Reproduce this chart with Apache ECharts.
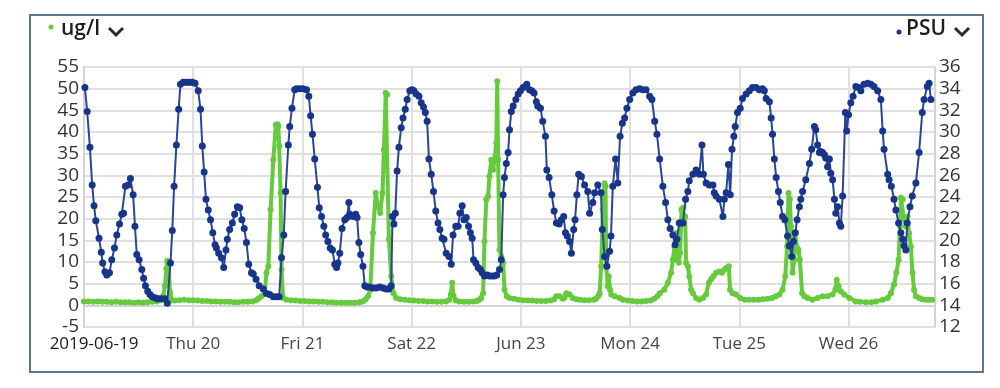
<!DOCTYPE html>
<html>
<head>
<meta charset="utf-8">
<script src="https://cdn.jsdelivr.net/npm/echarts@6/dist/echarts.min.js"></script>
<style>
html,body{margin:0;padding:0;background:#fff;}
#chart{width:1000px;height:388px;}
</style>
</head>
<body>
<div id="chart"></div>
<script>
// x values are hours after 2019-06-19 00:00
var xTickLabels = ['2019-06-19','Thu 20','Fri 21','Sat 22','Jun 23','Mon 24','Tue 25','Wed 26'];
var leftAxisName = 'ug/l';
var rightAxisName = 'PSU';

// ug/l (left axis, green)
var ugl = [
[0,0.9],[1,0.9],[2,0.8],[3,0.9],[4,0.8],[5,0.8],[6,0.7],[7,0.8],[8,0.7],[9,0.7],[10,0.7],[11,0.6],[12,0.7],[13,0.6],[14,0.7],[15,0.8],[16,0.9],[16.8,1.2],[17.4,2.2],[17.8,4.5],[18.1,8.5],[18.3,10.3],[18.6,9.5],[18.9,3.0],[19.3,1.2],
[20,1.1],[21,1.2],[22,1.3],[23,1.2],[24,1.2],[25,1.1],[26,1.0],[27,1.0],[28,0.9],[29,0.9],[30,0.8],[31,0.8],[32,0.8],[33,0.7],[34,0.7],[35,0.8],[36,0.8],[37,0.9],[37.8,1.2],[38.4,1.6],[39.0,2.1],[39.7,2.8],[40.1,7.5],[40.5,9.0],[41.0,22.1],[41.6,33.6],[42.15,41.7],[42.5,41.8],[42.7,41.3],[42.9,36.7],[43.2,25.9],[43.4,8.2],[43.75,1.7],
[44.5,1.3],[45.5,1.2],[46.5,1.1],[47.5,1.0],[48.5,1.0],[49.5,0.9],[50.5,0.9],[51.5,0.8],[52.5,0.8],[53.5,0.7],[54.5,0.7],[55.5,0.6],[56.5,0.6],[57.5,0.6],[58.5,0.6],[59.5,0.6],[60.5,0.7],[61.3,0.9],[61.9,1.4],[62.4,2.1],[62.9,3.6],[63.5,16.7],[64.1,25.9],[64.6,22.8],[65.1,21.3],[65.6,25.9],[65.9,35.9],[66.3,49.0],[66.6,48.6],[67.0,15.2],[67.5,6.7],[68.0,2.8],[68.6,1.7],
[69.5,1.4],[70.5,1.3],[71.5,1.2],[72.5,1.1],[73.5,1.0],[74.5,1.0],[75.5,0.9],[76.5,0.9],[77.5,0.8],[78.5,0.8],[79.5,0.9],[80.3,1.3],[80.6,2.5],[80.9,5.2],[81.2,2.2],[81.7,1.1],[82.5,0.9],[83.5,0.8],[84.5,0.8],[85.5,0.9],[86.3,1.0],[86.9,1.3],[87.3,1.7],[87.7,2.8],[88.0,14.8],[88.4,24.4],[88.8,25.2],[89.1,29.8],[89.5,33.6],[89.9,31.3],[90.2,33.6],[90.6,37.5],[90.8,51.7],[91.0,33.6],[91.3,12.8],[91.7,11.3],[92.1,9.8],[92.4,3.6],[92.9,2.1],[93.5,1.7],
[94.5,1.5],[95.5,1.3],[96.5,1.2],[97.5,1.1],[98.5,1.1],[99.5,1.0],[100.5,1.0],[101.5,1.0],[102.5,1.1],[103.3,1.4],[103.8,2.1],[104.5,2.1],[105.2,1.5],[105.6,1.8],[106.0,2.8],[106.7,2.5],[107.4,1.7],[108.2,1.4],[109,1.3],[110,1.2],[111,1.2],[112,1.3],[112.5,1.5],[113.0,2.1],[113.3,2.8],[113.65,9.0],[114.0,22.1],[114.4,28.2],[114.6,27.5],[114.75,9.0],[115.1,4.4],[115.3,6.7],[115.6,3.6],[115.85,2.5],[116.6,2.1],[117.7,1.7],
[118.4,1.3],[119.5,1.1],[120.5,1.0],[121.5,0.9],[122.5,0.9],[123.5,1.0],[124.5,1.1],[125.3,1.5],[126.0,2.1],[126.5,2.8],[127.5,3.6],[128.3,5.2],[129.0,7.5],[129.4,10.5],[129.75,13.6],[129.96,16.7],[130.26,10.5],[130.7,9.8],[131.0,12.1],[131.3,22.1],[131.7,22.5],[132.1,20.5],[132.3,9.8],[132.7,9.0],[133.0,6.7],[133.4,3.6],[133.8,2.8],[134.5,1.7],[135.2,1.3],[136.0,1.7],[136.7,2.5],[137.3,5.2],[137.8,6.0],[138.3,6.7],[138.9,7.5],[139.6,7.8],[140.2,7.5],[140.7,8.2],[141.1,8.6],[141.7,9.0],[141.96,3.6],[142.55,2.8],[143.3,2.5],
[144.2,1.7],[145.2,1.3],[146.2,1.3],[147.2,1.3],[148.2,1.3],[149.2,1.4],[150.2,1.5],[151.2,1.7],[152.0,2.1],[152.8,2.5],[153.5,3.6],[154.1,6.7],[154.5,13.6],[154.8,25.9],[155.1,24.4],[155.35,18.2],[155.7,7.5],[156.1,10.5],[156.3,16.7],[156.6,13.6],[157.0,12.8],[157.3,10.5],[157.8,2.8],[158.3,2.1],[159.0,1.7],[160.1,1.3],[161.2,1.7],[162.3,2.1],[163.4,2.1],[164.5,2.5],[165.1,3.6],[165.4,5.9],[165.8,4.4],[166.3,3.2],[167.05,2.5],[168.2,1.7],[169.6,0.9],[170.5,0.8],[171.8,0.7],[173,0.7],[174,0.9],[175.5,1.3],[176.6,1.7],[177.3,2.8],[178.0,4.8],[178.5,7.5],[179.0,10.5],[179.3,18.2],[179.5,24.8],[179.9,24.4],[180.2,19.8],[180.6,18.2],[180.95,20.5],[181.3,16.7],[181.7,13.6],[182.05,7.5],[182.4,3.6],[182.8,2.1],[183.5,1.7],[184.2,1.4],[185.0,1.3],[185.7,1.3],[186.4,1.3]
];

// PSU (right axis, navy)
var psu = [
[0.2,34.1],[0.7,31.9],[1.3,28.6],[1.8,25.1],[2.2,23.2],[2.6,21.8],[3.3,20.2],[3.8,18.9],[4.1,17.9],[4.6,17.1],[5.0,16.8],[5.6,17.0],[6.1,18.2],[6.7,19.3],[7.2,20.5],[7.8,21.5],[8.3,22.4],[8.7,22.5],[9.1,25.0],[9.7,25.1],[10.2,25.7],[10.8,24.2],[11.2,21.3],[11.6,18.7],[12.1,18.2],[12.7,17.3],[13.1,16.5],[13.5,15.8],[14.0,15.3],[14.5,15.0],[15.0,14.8],[15.6,14.7],[16.1,14.6],[16.5,14.6],[17.2,14.6],[17.8,14.6],[18.3,14.2],
[19.0,17.9],[19.4,20.9],[19.8,25.0],[20.3,28.8],[20.8,32.1],[21.2,34.4],[21.8,34.6],[22.3,34.6],[22.8,34.6],[23.3,34.6],[23.8,34.6],[24.4,34.5],[25.1,33.8],[25.6,32.1],[26.0,28.7],[26.4,26.3],[26.8,23.8],[27.3,22.8],[27.8,21.9],[28.3,20.7],[28.8,19.6],[29.1,19.3],[29.6,18.8],[30.2,18.4],[30.7,17.5],[31.2,19.1],[31.5,20.1],[32.0,21.0],[32.6,21.6],[33.1,22.4],[33.7,23.1],[34.2,23.0],[34.7,21.9],[35.2,21.1],[35.7,19.8],[36.2,17.8],[36.8,17.0],[37.2,16.9],[37.8,16.4],[38.5,15.8],[39.4,15.5],[40.1,15.1],[40.8,15.0],[41.6,14.8],[42.3,14.8],[42.9,14.8],
[43.4,18.4],[43.9,20.5],[44.3,24.5],[44.9,28.8],[45.2,30.5],[45.7,32.2],[46.3,33.9],[46.7,34.0],[47.4,34.0],[48.1,34.0],[48.9,33.9],[49.4,33.3],[49.8,31.5],[50.2,29.8],[50.7,27.5],[51.3,24.9],[51.7,23.0],[52.2,22.2],[52.7,21.3],[53.1,20.5],[53.6,19.9],[54.1,19.3],[54.6,19.1],[55.1,17.8],[55.5,17.5],[55.8,17.9],[56.2,18.8],[56.7,21.1],[57.3,21.9],[57.8,22.1],[58.2,23.5],[58.4,22.4],[59.1,22.2],[59.7,22.4],[60.0,22.1],[60.4,19.8],[60.8,18.7],[61.3,17.6],[61.7,15.8],[62.2,15.7],[62.8,15.7],[63.5,15.6],[64.2,15.6],[65.0,15.7],[65.7,15.6],[66.4,15.5],[67.0,15.5],[67.5,15.8],
[67.8,22.2],[68.1,21.5],[68.4,22.5],[68.8,26.4],[69.2,28.6],[69.7,30.4],[70.1,31.3],[70.6,32.1],[71.0,33.0],[71.6,33.8],[72.1,33.9],[72.5,33.8],[73.0,33.5],[73.6,33.3],[74.1,32.7],[74.6,32.3],[75.0,31.8],[75.4,31.0],[75.8,27.5],[76.3,26.1],[76.8,24.5],[77.3,22.7],[77.8,21.6],[78.2,21.0],[78.7,20.2],[79.1,20.1],[79.6,18.8],[80.2,18.5],[80.7,17.8],[81.1,20.5],[81.7,21.3],[82.2,21.3],[82.6,22.5],[83.1,23.2],[83.5,21.9],[84.0,22.1],[84.5,21.3],[84.9,20.7],[85.3,20.2],[85.6,18.2],[86.1,17.9],[86.6,17.5],[87.1,17.3],[87.5,17.0],[88.0,16.7],[88.6,16.8],[89.1,16.7],[89.7,16.7],[90.2,16.7],[90.7,16.8],[91.3,17.3],[91.7,18.2],
[92.1,24.2],[92.4,25.8],[92.8,27.1],[93.2,28.1],[93.5,30.2],[93.9,31.9],[94.3,32.4],[94.9,33.0],[95.4,33.5],[95.9,33.8],[96.5,34.1],[97.0,34.2],[97.3,34.4],[97.9,33.9],[98.4,33.8],[98.9,33.6],[99.4,32.8],[99.7,32.4],[100.3,32.2],[100.8,31.0],[101.4,29.6],[101.7,26.5],[102.2,25.8],[102.8,24.2],[103.3,22.7],[103.8,21.6],[104.4,21.5],[104.9,21.9],[105.4,22.2],[105.8,20.7],[106.2,20.4],[106.7,19.9],[107.1,18.8],[107.6,21.0],[107.9,21.9],[108.3,24.2],[108.7,26.1],
[109.3,25.9],[110.0,25.1],[110.7,24.5],[111.1,22.5],[111.8,23.5],[112.2,24.4],[112.9,25.1],[113.6,24.4],[113.9,21.0],[114.4,18.5],[114.9,17.6],[115.5,19.0],[115.8,20.4],[116.2,25.0],[116.8,27.5],[117.3,25.3],[117.8,29.6],[118.3,30.8],[118.8,31.3],[119.3,32.2],[119.9,33.0],[120.6,33.6],[121.3,33.9],[122.1,34.0],[122.8,33.9],[123.5,33.9],[124.3,33.3],[124.8,33.0],[125.4,31.0],[125.9,29.8],[126.5,27.5],[127.2,25.0],[127.8,23.5],[128.3,21.9],[128.8,21.1],[129.4,20.5],[129.9,19.6],[130.3,20.1],[130.8,21.6],[131.2,21.6],[131.6,21.6],[132.2,23.8],[132.7,24.5],[133.0,25.5],[133.8,26.1],[134.5,26.5],[135.2,26.1],[135.8,28.8],[136.1,26.1],[136.7,25.3],[137.4,25.1],[138.2,25.1],[138.5,24.4],[138.9,24.1],[139.6,23.8],[140.4,22.2],[140.7,23.8],[141.1,24.4],[141.6,27.0],[142.0,24.2],[142.4,28.4],[142.8,29.6],[143.1,30.5],[143.6,31.8],[144.2,32.2],[144.7,33.1],[145.5,33.5],[146.2,33.8],[146.9,34.1],[147.7,34.1],[148.4,33.9],[149.1,34.0],[149.5,33.8],[149.9,33.1],[150.6,32.8],[151.0,31.3],[151.3,29.8],[151.7,27.5],[152.1,25.8],[152.6,24.5],[153.0,23.5],[153.5,22.2],[154.0,21.9],[154.6,20.4],[155.0,19.5],[155.5,18.5],[155.9,19.9],[156.3,20.7],[156.7,21.9],[157.2,23.1],[157.5,23.8],[157.9,24.5],[158.6,25.6],[159.4,27.1],[159.9,28.4],[160.5,30.5],[160.8,30.2],[161.2,28.8],[161.6,28.1],[161.9,28.2],[162.3,28.1],[162.7,27.9],[163.0,27.6],[163.4,26.8],[163.8,27.5],[164.1,26.2],[164.5,25.6],[164.9,23.8],[165.2,22.5],[165.6,23.1],[166.0,21.6],[166.3,21.3],[166.7,24.1],
[167.3,31.8],[167.6,30.1],[168.0,31.6],[168.5,32.7],[169.0,33.3],[169.6,34.2],[170.2,34.1],[170.7,33.8],[171.4,34.4],[172.2,34.5],[172.9,34.4],[173.6,34.2],[174.4,33.8],[175.1,33.0],[175.5,30.1],[175.8,28.4],[176.6,26.1],[176.9,25.6],[177.4,25.0],[178.0,23.8],[178.4,22.8],[179.0,21.6],[179.5,20.7],[179.9,20.1],[180.2,19.5],[180.6,19.1],[180.9,21.6],[181.5,23.1],[182.0,24.1],[182.8,25.3],[183.5,28.1],[184.2,31.8],[184.6,33.0],[185.3,34.2],[185.7,34.5],[186.1,33.0]
];

var chart = echarts.init(document.getElementById('chart'), null, {renderer: 'canvas'});
var FONT = '"Open Sans", "Noto Sans", sans-serif';
var gridColor = '#e0e0e0';

chart.setOption({
  animation: false,
  backgroundColor: '#ffffff',
  grid: {left: 84, right: 65, top: 67, bottom: 61, containLabel: false},
  xAxis: {
    type: 'value', min: 0, max: 187, interval: 24,
    axisLine: {show: true, lineStyle: {color: '#d4d4d4', width: 2}},
    axisTick: {show: false},
    splitLine: {show: true, lineStyle: {color: gridColor, width: 2}},
    axisLabel: {
      margin: 9, fontFamily: FONT, fontSize: 17, color: '#444',
      showMaxLabel: false,
      formatter: function (v) {
        var i = v / 24;
        if (i !== Math.round(i) || !xTickLabels[i]) return '';
        if (i === 0) return '{first|' + xTickLabels[0] + '}';
        return xTickLabels[i];
      },
      rich: {first: {fontFamily: FONT, fontSize: 17, color: '#1a1a1a', padding: [0, 0, 0, 20]}}
    }
  },
  yAxis: [
    {
      type: 'value', min: -5, max: 55, interval: 5, position: 'left',
      axisLine: {show: true, lineStyle: {color: '#d4d4d4', width: 2}},
      axisTick: {show: false},
      splitLine: {show: true, lineStyle: {color: gridColor, width: 2}},
      axisLabel: {margin: 5, fontFamily: FONT, fontSize: 19, color: '#333'}
    },
    {
      type: 'value', min: 12, max: 36, interval: 2, position: 'right',
      axisLine: {show: true, lineStyle: {color: '#d4d4d4', width: 2}},
      axisTick: {show: false},
      splitLine: {show: false},
      axisLabel: {margin: 4, fontFamily: FONT, fontSize: 19, color: '#333'}
    }
  ],
  series: [
    {
      name: leftAxisName, type: 'line', yAxisIndex: 0, data: ugl,
      symbol: 'circle', symbolSize: 6, showAllSymbol: true,
      itemStyle: {color: '#66cb3c'},
      lineStyle: {color: '#66cb3c', width: 4},
      z: 2
    },
    {
      name: rightAxisName, type: 'line', yAxisIndex: 1, data: psu,
      symbol: 'circle', symbolSize: 7, showAllSymbol: true,
      itemStyle: {color: '#17358a'},
      lineStyle: {color: '#2a4597', width: 2},
      z: 3
    }
  ],
  graphic: [
    {type: 'rect', shape: {x: 30, y: 15, width: 953, height: 357}, style: {fill: 'none', stroke: '#5d7397', lineWidth: 2}, silent: true},
    {type: 'circle', shape: {cx: 51, cy: 27, r: 2.5}, style: {fill: '#66cb3c'}},
    {type: 'text', left: 61, top: 19, style: {text: leftAxisName, font: '600 21px "Open Sans", sans-serif', fill: '#1e1e1e'}},
    {type: 'polyline', shape: {points: [[109, 28], [116, 35], [123, 28]]}, style: {stroke: '#2a2a2a', lineWidth: 3, fill: 'none'}},
    {type: 'circle', shape: {cx: 899, cy: 32, r: 2.5}, style: {fill: '#17358a'}},
    {type: 'text', left: 906, top: 19, style: {text: rightAxisName, font: '600 21px "Open Sans", sans-serif', fill: '#1e1e1e'}},
    {type: 'polyline', shape: {points: [[955, 28], [962, 35], [969, 28]]}, style: {stroke: '#2a2a2a', lineWidth: 3, fill: 'none'}}
  ]
});
</script>
</body>
</html>
